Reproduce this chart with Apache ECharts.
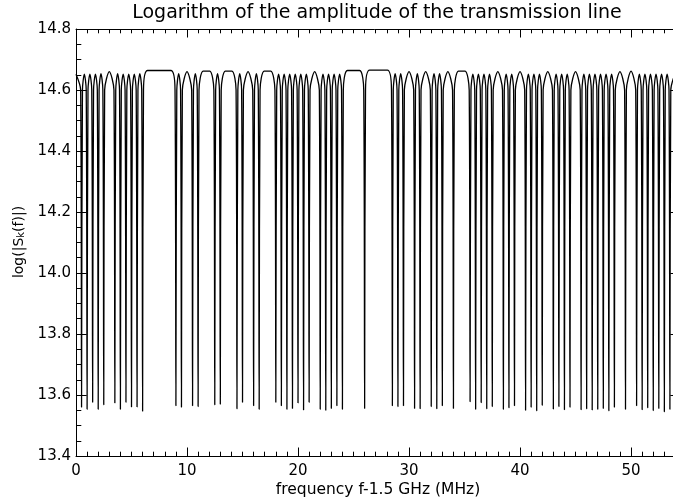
<!DOCTYPE html>
<html>
<head>
<meta charset="utf-8">
<script src="https://cdn.jsdelivr.net/npm/echarts@6/dist/echarts.min.js"></script>
<style>
  html, body { margin: 0; padding: 0; background: #ffffff; }
  #chart { width: 673px; height: 503px; }
</style>
</head>
<body>
<div id="chart"></div>
<script>
// Resonance dips of the line (frequency offset from 1.5 GHz, MHz)
const dipFreq = [
  0.5, 1.0, 1.5, 2.0, 2.5, 3.5, 4.0, 4.5, 5.0, 5.5, 6.0,
  9.0, 9.5, 10.5, 11.0, 12.5, 13.0, 14.5, 15.0, 16.0, 16.5,
  18.0, 18.5, 19.0, 19.5, 20.0, 20.5, 21.0, 22.0, 22.5, 23.0, 23.5, 24.0, 26.0,
  28.5, 29.0, 29.5, 30.5, 31.0, 32.0, 32.5, 33.0, 34.0, 35.5,
  36.0, 36.5, 37.0, 37.5, 38.5, 39.0, 39.5, 40.5, 41.0, 41.5, 42.0, 43.0, 43.5, 44.0, 44.5,
  45.5, 46.0, 46.5, 47.0, 47.5, 48.0, 48.5, 49.5, 50.5, 51.0, 51.5, 52.0, 52.5, 53.0, 53.5
];

// log|S_k| at the bottom of each dip
const dipFloor = [
  13.560, 13.553, 13.576, 13.553, 13.568, 13.574, 13.553, 13.576, 13.561, 13.561, 13.547,
  13.565, 13.560, 13.565, 13.562, 13.568, 13.570, 13.555, 13.576, 13.565, 13.553,
  13.576, 13.565, 13.553, 13.556, 13.574, 13.551, 13.576, 13.553, 13.550, 13.556, 13.565, 13.553, 13.556,
  13.565, 13.562, 13.565, 13.556, 13.555, 13.562, 13.555, 13.565, 13.556, 13.578,
  13.553, 13.575, 13.555, 13.562, 13.553, 13.558, 13.565, 13.550, 13.560, 13.548, 13.566, 13.554, 13.562, 13.552, 13.560,
  13.552, 13.555, 13.551, 13.553, 13.556, 13.548, 13.560, 13.553, 13.565, 13.552, 13.558, 13.549, 13.556, 13.545, 13.553
];

// log|S_k| at the top of each arch: before the first dip, between successive dips, after the last dip
const crestLevel = [
  14.652,
  14.652, 14.652, 14.652, 14.654, 14.660, 14.654, 14.652, 14.652, 14.652, 14.654, 14.664,
  14.654, 14.660, 14.654, 14.662, 14.654, 14.662, 14.654, 14.660, 14.654, 14.662,
  14.652, 14.652, 14.652, 14.652, 14.652, 14.652, 14.660, 14.652, 14.652, 14.652, 14.652, 14.664, 14.665,
  14.654, 14.654, 14.660, 14.654, 14.660, 14.654, 14.654, 14.660, 14.662, 14.652,
  14.652, 14.652, 14.652, 14.660, 14.652, 14.652, 14.660, 14.652, 14.652, 14.652, 14.660, 14.652, 14.652, 14.652, 14.660,
  14.652, 14.652, 14.652, 14.652, 14.652, 14.652, 14.660, 14.662, 14.652, 14.652, 14.652, 14.652, 14.652, 14.652,
  14.652
];

const xRange = [0, 54.5];
const xTickLabels = [0, 10, 20, 30, 40, 50];
const yRange = [13.4, 14.8];
const yTickLabels = [13.4, 13.6, 13.8, 14.0, 14.2, 14.4, 14.6, 14.8];
const traceEnd = 53.95;

// Polyline of the trace: each dip is a narrow notch, each gap between dips an arch
function buildTrace() {
  const notch = 0.08;      // half width of a notch where it meets the arch
  const shoulder = 14.60;  // level where a notch flank meets the arch
  const corner = 0.45;     // arch corner distance for wide gaps
  const pts = [[xRange[0], crestLevel[0]]];
  for (let i = 0; i < dipFreq.length; i++) {
    const f = dipFreq[i];
    pts.push([f - notch, shoulder], [f, dipFloor[i]], [f + notch, shoulder]);
    const c = crestLevel[i + 1];
    if (i + 1 < dipFreq.length) {
      const nx = dipFreq[i + 1];
      if (nx - f <= 1.0) {
        pts.push([(f + nx) / 2, c]);
      } else {
        pts.push([f + corner, c], [nx - corner, c]);
      }
    } else {
      pts.push([traceEnd, c]);
    }
  }
  return pts;
}

const font = 'DejaVu Sans';
const ink = '#000000';

function xAxisDef(position, showLabels) {
  return {
    type: 'value', position: position,
    min: xRange[0], max: xRange[1], interval: 10,
    axisLine: { show: true, onZero: false, lineStyle: { color: ink, width: 1 } },
    axisTick: { show: true, inside: true, length: 8.5, lineStyle: { color: ink, width: 1 } },
    minorTick: { show: true, splitNumber: 10, length: 4.3, lineStyle: { color: ink, width: 1 } },
    splitLine: { show: false },
    minorSplitLine: { show: false },
    axisLabel: {
      show: showLabels, margin: 8, color: ink, fontFamily: font, fontSize: 15,
      formatter: v => (xTickLabels.indexOf(Math.round(v * 1000) / 1000) >= 0 ? String(Math.round(v)) : '')
    }
  };
}

function yAxisDef(position, showLabels) {
  return {
    type: 'value', position: position,
    min: yRange[0], max: yRange[1], interval: 0.2,
    axisLine: { show: true, onZero: false, lineStyle: { color: ink, width: 1 } },
    axisTick: { show: true, inside: true, length: 10.7, lineStyle: { color: ink, width: 1 } },
    minorTick: { show: true, splitNumber: 4, length: 5.3, lineStyle: { color: ink, width: 1 } },
    splitLine: { show: false },
    minorSplitLine: { show: false },
    axisLabel: {
      show: showLabels, margin: 5, color: ink, fontFamily: font, fontSize: 15,
      formatter: v => {
        const r = Math.round(v * 10) / 10;
        return yTickLabels.indexOf(r) >= 0 ? r.toFixed(1) : '';
      }
    }
  };
}

const chart = echarts.init(document.getElementById('chart'), null, { renderer: 'canvas' });
chart.setOption({
  animation: false,
  backgroundColor: '#ffffff',
  // the plot box runs a little past the right edge of the page
  grid: { left: 76, top: 29, width: 605, height: 427, containLabel: false, outerBoundsMode: 'none' },
  xAxis: [xAxisDef('bottom', true), xAxisDef('top', false)],
  yAxis: [yAxisDef('left', true), yAxisDef('right', false)],
  series: [{
    type: 'line',
    xAxisIndex: 0, yAxisIndex: 0,
    data: buildTrace(),
    showSymbol: false,
    smooth: 0.3,
    clip: true,
    lineStyle: { color: ink, width: 1.3 }
  }],
  graphic: [
    {
      type: 'text', x: 377, y: 13,
      style: {
        text: 'Logarithm of the amplitude of the transmission line',
        fill: ink, font: '19px "DejaVu Sans"',
        textAlign: 'center', textVerticalAlign: 'middle'
      }
    },
    {
      type: 'text', x: 378, y: 490,
      style: {
        text: 'frequency f-1.5 GHz (MHz)',
        fill: ink, font: '15.5px "DejaVu Sans"',
        textAlign: 'center', textVerticalAlign: 'middle'
      }
    },
    {
      type: 'text', x: 19, y: 242, rotation: Math.PI / 2,
      style: {
        text: 'log(|S{sub|k}(f)|)',
        fill: ink, fontFamily: font, fontSize: 14,
        textAlign: 'center', textVerticalAlign: 'middle',
        rich: {
          sub: { fontFamily: font, fontSize: 10, fill: ink, verticalAlign: 'bottom', padding: [5, 0, 0, 0] }
        }
      }
    }
  ]
});
</script>
</body>
</html>
